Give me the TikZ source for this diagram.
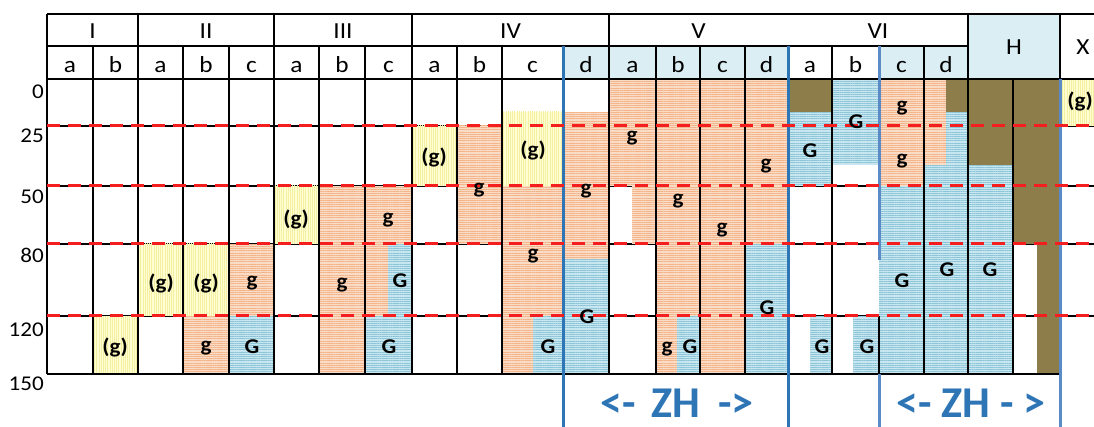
\documentclass[tikz,border=0pt]{standalone}
\usepackage{fontspec}
\setmainfont{Carlito}[FakeStretch=1.1]
\newfontfamily\captionfont{Carlito}
\usetikzlibrary{patterns.meta}

\definecolor{hdrblue}{HTML}{DAEEF3}
\definecolor{orngbase}{HTML}{FADCC6}
\definecolor{orngline}{HTML}{F2B488}
\definecolor{bluebase}{HTML}{C8E6EF}
\definecolor{blueline}{HTML}{8CC5D8}
\definecolor{yellbase}{HTML}{FFFFD2}
\definecolor{yellline}{HTML}{F5EFA4}
\definecolor{olive}{HTML}{8C7D4B}
\definecolor{zoneblue}{HTML}{2E75B6}
\definecolor{softblue}{HTML}{5B8BC6}
\definecolor{cutred}{HTML}{F51E1E}

\tikzset{
  orng/.style={fill=orngbase, postaction={pattern={Lines[angle=0,distance=2.2pt,line width=1pt]}, pattern color=orngline}},
  blu/.style={fill=bluebase, postaction={pattern={Lines[angle=0,distance=2.2pt,line width=1pt]}, pattern color=blueline}},
  yel/.style={fill=yellbase, postaction={pattern={Lines[angle=90,distance=2.2pt,line width=0.9pt]}, pattern color=yellline}},
  oli/.style={fill=olive},
  grid/.style={black, line width=1.8pt},
  zoneline/.style={zoneblue, line width=3pt},
  softline/.style={softblue, line width=3pt},
  cutline/.style={cutred, line width=3pt, dash pattern=on 13pt off 8pt},
  lbl/.style={font=\fontsize{21}{25}\selectfont\bfseries, inner sep=0pt},
  hdr/.style={font=\fontsize{23}{27}\selectfont, inner sep=0pt, anchor=base},
  axis/.style={font=\fontsize{21}{25}\selectfont, inner sep=0pt, anchor=base east},
  zh/.style={font=\captionfont\fontsize{44}{50}\selectfont\bfseries, text=zoneblue, inner sep=0pt, anchor=base},
}

\begin{document}
\begin{tikzpicture}[x=1pt,y=-1pt]
\useasboundingbox (0,0) rectangle (1094,427);

% header shading
\fill[hdrblue] (968,14) rectangle (1060,79);
\fill[hdrblue] (563,46) rectangle (788,79);
\fill[hdrblue] (879,46) rectangle (968,79);

% horizontal grid lines (below the fills)
\foreach \yy in {126,186,244,316} \draw[grid] (47,\yy) -- (1094,\yy);

% yellow cells
\foreach \a/\b/\c/\d in {93/316/138/374, 138/244/183/316, 183/244/229/316,
  274/186/319/244, 412/126/457/186, 502/112/563/186, 1060/79/1094/126}
  \path[yel] (\a,\b) rectangle (\c,\d);

% orange cells
\foreach \a/\b/\c/\d in {183/316/229/374, 229/244/274/316, 319/186/365/374,
  365/186/412/244, 365/244/388/316, 457/126/502/244, 502/186/563/316,
  502/316/533/374, 563/112/609/260, 609/79/656/186, 632/186/656/244,
  656/79/700/316, 656/316/677/374, 700/79/745/374, 745/79/788/244,
  879/79/924/186, 924/79/946/165}
  \path[orng] (\a,\b) rectangle (\c,\d);

% blue cells
\foreach \a/\b/\c/\d in {229/316/274/374, 388/244/412/316, 365/316/412/374,
  533/316/563/374, 563/260/609/374, 677/316/700/374, 745/244/788/374,
  788/112/832/186, 832/79/879/165, 810/316/832/374, 853/316/879/374,
  879/186/924/374, 946/112/968/165, 924/165/968/374, 968/165/1013/374}
  \path[blu] (\a,\b) rectangle (\c,\d);

% olive cells
\foreach \a/\b/\c/\d in {788/79/832/112, 946/79/968/112, 968/79/1013/165,
  1013/79/1060/244, 1037/244/1060/374}
  \path[oli] (\a,\b) rectangle (\c,\d);

% outer and header rules
\draw[grid] (47,14) -- (1094,14);
\draw[grid] (47,46) -- (968,46);
\draw[grid] (47,79) -- (1094,79);
\draw[grid] (47,374) -- (1060,374);

% group separators spanning both header rows
\foreach \xx in {47,138,274,412,609,968} \draw[grid] (\xx,14) -- (\xx,374);
\draw[grid] (1060,14) -- (1060,79);
% sub-column separators
\foreach \xx in {93,183,229,319,365,457,502,656,700,745,832,924} \draw[grid] (\xx,46) -- (\xx,374);
\draw[grid] (1013,79) -- (1013,374);
\draw[grid] (879,316) -- (879,374);

% zone boundaries
\draw[zoneline] (563,46) -- (563,427);
\draw[zoneline] (788,46) -- (788,427);
\draw[softline] (879,46) -- (879,260);
\draw[softline] (879,374) -- (879,427);
\draw[softline] (1060,79) -- (1060,427);

% cut levels
\foreach \yy in {126,186,244,316} \draw[cutline] (47,\yy) -- (1094,\yy);

% column group headings
\node[hdr] (gI)   at (92.5,38.5) {I};
\node[hdr] (gII)  at (206,38.5) {II};
\node[hdr] (gIII) at (343,38.5) {III};
\node[hdr] (gIV)  at (510.5,38.5) {IV};
\node[hdr] (gV)   at (698.5,38.5) {V};
\node[hdr] (gVI)  at (878,38.5) {VI};
\node[hdr] (gH)   at (1014,55) {H};
\node[hdr] (gX)   at (1083,55) {X};

% sub-column headings
\foreach \xx/\t [count=\i] in {70/a, 115.5/b, 160.5/a, 206/b, 251.5/c,
  296.5/a, 342/b, 388.5/c, 434.5/a, 479.5/b, 532.5/c, 586/d,
  632.5/a, 678/b, 722.5/c, 766.5/d, 810/a, 855.5/b, 901.5/c, 946/d}
  \node[hdr] (sub\i) at (\xx,72.5) {\t};

% depth scale
\node[axis] (d0)   at (44,99)  {0};
\node[axis] (d25)  at (44,143) {25};
\node[axis] (d50)  at (44,204) {50};
\node[axis] (d80)  at (44,263) {80};
\node[axis] (d120) at (44,336) {120};
\node[axis] (d150) at (44,390) {150};

% cell marks
\foreach \xx/\yy/\t [count=\i] in {
  115/347/(g), 161/283/(g), 206/283/(g), 252/283/g, 206/348/g, 252/347/G,
  296/219/(g), 388/220/g, 342/285/g, 400/281/G, 389/347/G,
  434/157/(g), 533/150/(g), 479/190/g, 533/256/g, 548/347/G,
  586/191/g, 587/317/G,
  632/138/g, 766/166/g, 678/201/g, 722/230/g, 767/308/G, 667/349/g, 690/347/G,
  810/151/G, 856/122/G, 902/108/g, 902/161/g, 822/347/G, 867/347/G,
  902/281/G, 947/270/G, 990/270/G, 1080/101/(g)}
  \node[lbl] (m\i) at (\xx,\yy) {\t};

% zone captions
\node[zh] (zh1) at (677,417) {<-\hspace{16pt}ZH\hspace{18pt}->};
\node[zh] (zh2) at (971,417) {<- ZH - >};
\end{tikzpicture}
\end{document}
